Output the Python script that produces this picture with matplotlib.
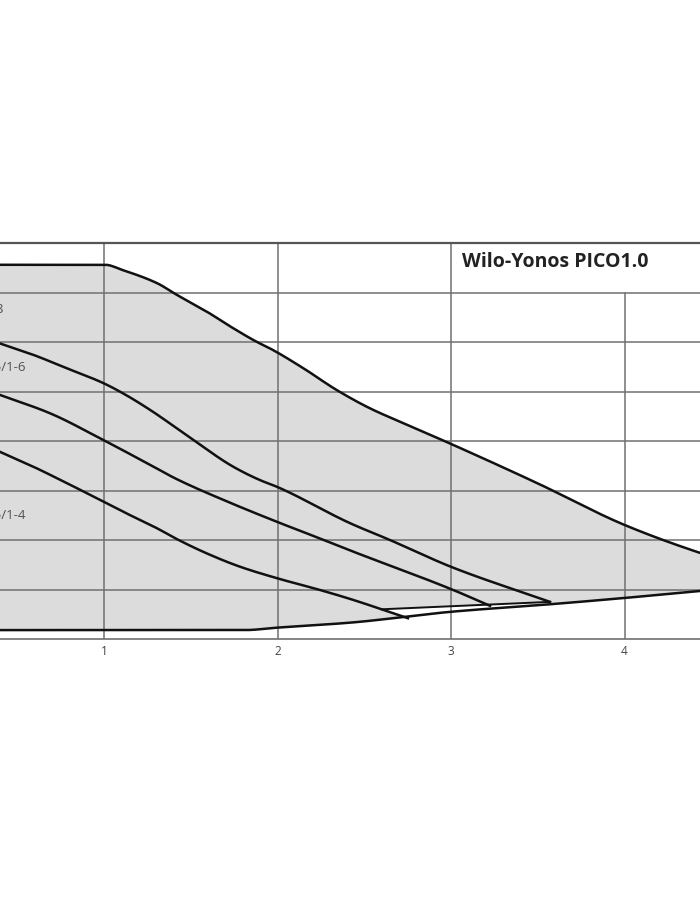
import numpy as np
import matplotlib
matplotlib.use("Agg")
from matplotlib import pyplot as plt

plt.rcParams['font.family'] = ['Open Sans', 'DejaVu Sans']

# Q [m3/h] vs H [m]
top_x = [0.38, 1.006, 1.110, 1.305, 1.421, 1.594, 1.744, 1.882, 1.957, 2.149, 2.341, 2.533, 2.725, 2.994, 3.496, 4.003, 4.435, 5.0]
top_y = [7.56, 7.56, 7.45, 7.19, 6.95, 6.61, 6.28, 6.00, 5.87, 5.47, 5.03, 4.66, 4.36, 3.95, 3.15, 2.30, 1.74, 1.15]

bot_x = [0.38, 1.81, 2.0, 2.418, 3.0, 3.6, 4.003, 4.435, 5.0]
bot_y = [0.18, 0.18, 0.23, 0.33, 0.55, 0.71, 0.83, 0.97, 1.15]

a_x = [0.401, 0.593, 0.785, 0.996, 1.111, 1.265, 1.515, 1.745, 1.899, 2.0, 2.418, 2.648, 3.006, 3.571]
a_y = [5.97, 5.74, 5.47, 5.17, 4.96, 4.63, 4.02, 3.48, 3.21, 3.07, 2.34, 2.00, 1.45, 0.75]

b_x = [0.401, 0.689, 0.996, 1.265, 1.419, 1.688, 1.995, 2.245, 2.418, 3.006, 3.225]
b_y = [4.93, 4.56, 4.02, 3.52, 3.23, 2.81, 2.37, 2.03, 1.79, 1.00, 0.67]

c_x = [0.401, 0.593, 0.785, 1.0, 1.111, 1.304, 1.419, 1.592, 1.784, 1.995, 2.245, 2.418, 2.752]
c_y = [3.78, 3.48, 3.15, 2.77, 2.57, 2.24, 2.02, 1.73, 1.46, 1.23, 0.99, 0.81, 0.42]

# short line joining the curve ends near the bottom
min_x = [2.60, 3.571]
min_y = [0.60, 0.75]

labels = ['Yonos PICO 25/1-8', 'Yonos PICO 25/1-6', 'Yonos PICO 25/1-4']
label_x = [0.418, 0.545, 0.545]
label_y = [6.65, 5.49, 2.50]

xticks = [1, 2, 3, 4]
title = 'Wilo-Yonos PICO1.0'


def smooth(x, y, n=400):
    # monotone cubic (pchip) through the read points, only for drawing
    x = np.asarray(x, float)
    y = np.asarray(y, float)
    h = np.diff(x)
    d = np.diff(y) / h
    m = np.zeros_like(x)
    m[0], m[-1] = d[0], d[-1]
    for k in range(1, len(x) - 1):
        if d[k - 1] * d[k] > 0:
            w1 = 2 * h[k] + h[k - 1]
            w2 = h[k] + 2 * h[k - 1]
            m[k] = (w1 + w2) / (w1 / d[k - 1] + w2 / d[k])
    xs = np.linspace(x[0], x[-1], n)
    i = np.clip(np.searchsorted(x, xs) - 1, 0, len(x) - 2)
    t = (xs - x[i]) / h[i]
    h00 = 2 * t ** 3 - 3 * t ** 2 + 1
    h10 = t ** 3 - 2 * t ** 2 + t
    h01 = -2 * t ** 3 + 3 * t ** 2
    h11 = t ** 3 - t ** 2
    ys = h00 * y[i] + h10 * h[i] * m[i] + h01 * y[i + 1] + h11 * h[i] * m[i + 1]
    return xs, ys


fig = plt.figure(figsize=(7, 9), dpi=100)
ax = fig.add_axes([-69.5 / 700, 1 - 639 / 900, 867.5 / 700, 396 / 900])
ax.set_xlim(0, 5)
ax.set_ylim(0, 8)

tsx, tsy = smooth(top_x, top_y)
bsx, bsy = smooth(bot_x, bot_y)
csx, csy = smooth(c_x, c_y)

gridc = '#707070'
# grey operating field
xg = np.linspace(top_x[0], top_x[-1], 800)
ax.fill_between(xg, np.interp(xg, bsx, bsy), np.interp(xg, tsx, tsy),
                color='#dcdcdc', lw=0, zorder=0)
# white wedge under the end line
xw = np.linspace(min_x[0], min_x[-1], 200)
lower = np.maximum(np.interp(xw, bsx, bsy),
                   np.where(xw <= c_x[-1], np.interp(xw, csx, csy), 0))
ax.fill_between(xw, lower, np.interp(xw, min_x, min_y), color='white', lw=0, zorder=0.5)

# grid, the x=4 line stops under the title box
for y in range(1, 8):
    ax.axhline(y, color=gridc, lw=1.1, zorder=1)
for x in xticks:
    top = 7 if x == 4 else 8
    ax.plot([x, x], [0, top], color=gridc, lw=1.1, zorder=1)

lc = '#111111'
lw = 1.8
ax.plot(tsx, tsy, color=lc, lw=lw, zorder=3)
ax.plot(bsx, bsy, color=lc, lw=lw, zorder=3)
for cx, cy in [(a_x, a_y), (b_x, b_y), (c_x, c_y)]:
    sx, sy = smooth(cx, cy)
    ax.plot(sx, sy, color=lc, lw=lw, zorder=3)
ax.plot(min_x, min_y, color=lc, lw=1.4, zorder=3)

for t, x, y in zip(labels, label_x, label_y):
    ax.text(x, y, t, ha='right', va='center', fontsize=9.5, color='#505050', zorder=4)

ax.text(3.063, 7.62, title, ha='left', va='center', fontsize=14,
        fontweight='bold', color='#222222', zorder=4)

ax.set_xticks(xticks)
ax.set_xticklabels([str(t) for t in xticks], fontsize=8.5, color='#444444')
ax.set_yticks([])
ax.tick_params(axis='x', length=0, pad=4)
for s in ['left', 'right']:
    ax.spines[s].set_visible(False)
ax.spines['top'].set_color('#555555')
ax.spines['top'].set_linewidth(1.6)
ax.spines['bottom'].set_color(gridc)
ax.spines['bottom'].set_linewidth(1.2)

fig.savefig('out.png', dpi=100)
